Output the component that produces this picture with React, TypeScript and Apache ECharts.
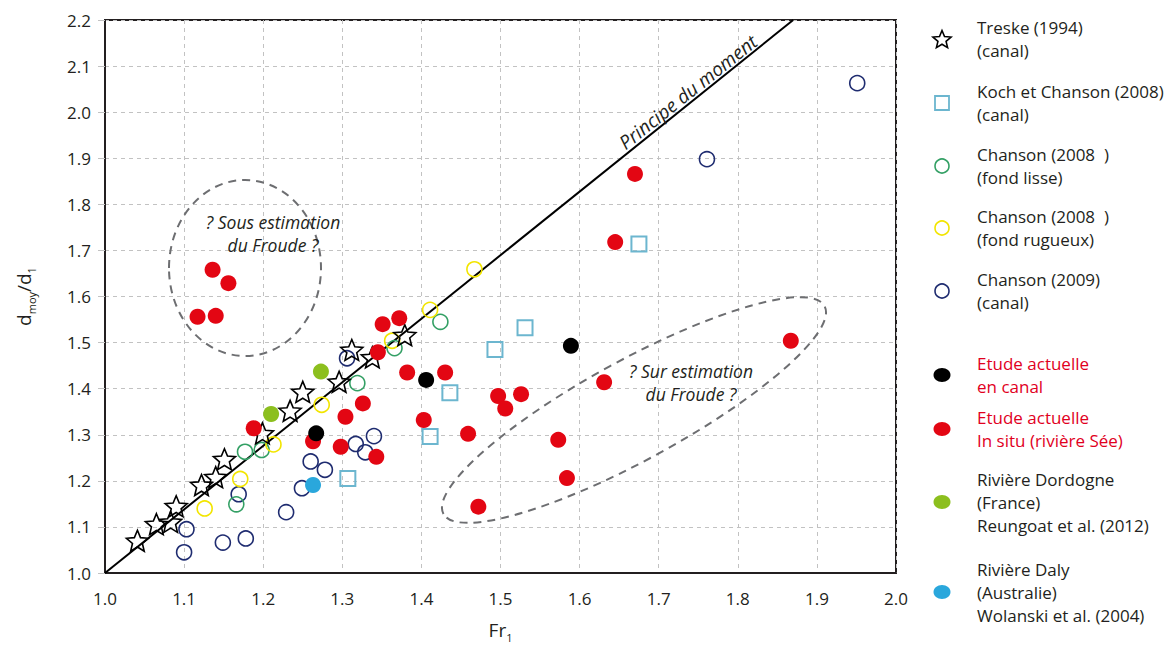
import React, { useEffect, useRef } from "react";
import * as echarts from "echarts";

// ---------- data ----------
const treskeX = [1.041, 1.065, 1.083, 1.09, 1.122, 1.14, 1.151, 1.199, 1.234, 1.25, 1.296, 1.312, 1.338, 1.379];
const treskeY = [1.07, 1.106, 1.111, 1.145, 1.191, 1.208, 1.247, 1.303, 1.352, 1.393, 1.415, 1.484, 1.468, 1.516];

const kochX = [1.307, 1.411, 1.436, 1.493, 1.531, 1.675];
const kochY = [1.205, 1.296, 1.391, 1.485, 1.532, 1.714];

const lisseX = [1.166, 1.177, 1.198, 1.319, 1.366, 1.424];
const lisseY = [1.149, 1.263, 1.267, 1.412, 1.488, 1.545];

const rugueuxX = [1.126, 1.171, 1.213, 1.274, 1.363, 1.411, 1.467];
const rugueuxY = [1.14, 1.204, 1.279, 1.365, 1.504, 1.571, 1.659];

const ch2009X = [1.1, 1.103, 1.149, 1.178, 1.169, 1.229, 1.249, 1.26, 1.278, 1.306, 1.317, 1.329, 1.34, 1.761, 1.951];
const ch2009Y = [1.045, 1.095, 1.066, 1.075, 1.171, 1.132, 1.184, 1.242, 1.224, 1.466, 1.28, 1.262, 1.297, 1.898, 2.063];

const canalX = [1.267, 1.406, 1.589];
const canalY = [1.303, 1.419, 1.493];

const situX = [1.117, 1.14, 1.136, 1.156, 1.188, 1.263, 1.298, 1.304, 1.326, 1.343, 1.345, 1.351, 1.372, 1.382, 1.403, 1.43, 1.459, 1.472, 1.497, 1.506, 1.526, 1.573, 1.584, 1.631, 1.645, 1.67, 1.867];
const situY = [1.556, 1.558, 1.658, 1.629, 1.314, 1.286, 1.274, 1.339, 1.368, 1.252, 1.479, 1.54, 1.553, 1.435, 1.332, 1.435, 1.302, 1.144, 1.384, 1.357, 1.388, 1.289, 1.206, 1.414, 1.718, 1.866, 1.504];

const dordogneX = [1.21, 1.273];
const dordogneY = [1.345, 1.437];

const dalyX = [1.263];
const dalyY = [1.191];

const momentX = [1.0, 1.87];
const momentY = [1.0, 2.2];

const legendLabels = [
  "Treske (1994)\n(canal)",
  "Koch et Chanson (2008)\n(canal)",
  "Chanson (2008  )\n(fond lisse)",
  "Chanson (2008  )\n(fond rugueux)",
  "Chanson (2009)\n(canal)",
  "Etude actuelle\nen canal",
  "Etude actuelle\nIn situ (rivière Sée)",
  "Rivière Dordogne\n(France)\nReungoat et al. (2012)",
  "Rivière Daly\n(Australie)\nWolanski et al. (2004)",
];

const xMin = 1.0, xMax = 2.0, yMin = 1.0, yMax = 2.2, step = 0.1;

// ---------- styles ----------
const INK = "#231f20";
const FONT = "'Open Sans', 'Noto Sans', sans-serif";
const C_KOCH = "#6cb6cf";
const C_LISSE = "#34a065";
const C_RUG = "#f2e500";
const C_2009 = "#1f2c70";
const C_RED = "#e30613";
const C_DORD = "#8cbf1e";
const C_DALY = "#2aa7dc";

const STAR_PTS: number[][] = [
  [0, -10], [2.645, -3.641], [9.511, -3.09], [4.28, 1.391], [5.878, 8.09],
  [0, 4.5], [-5.878, 8.09], [-4.28, 1.391], [-9.511, -3.09], [-2.645, -3.641],
];
const STAR_PATH =
  "path://" +
  STAR_PTS.map((p, i) => (i === 0 ? "M" : "L") + (p[0] + 10).toFixed(3) + "," + (p[1] + 10).toFixed(3)).join(" ") +
  " Z";

const zip = (xs: number[], ys: number[]) => xs.map((x, i) => [x, ys[i]]);

export default function App() {
  const ref = useRef<HTMLDivElement>(null);

  useEffect(() => {
    if (!ref.current) return;
    const chart = echarts.init(ref.current, undefined, { renderer: "svg" });

    const hollow = (name: string, xs: number[], ys: number[], color: string, symbol: string, size: number, bw = 1.6) => ({
      name,
      type: "scatter",
      data: zip(xs, ys),
      symbol,
      symbolSize: size,
      symbolKeepAspect: true,
      itemStyle: { color: "rgba(255,255,255,0)", borderColor: color, borderWidth: bw, opacity: 1 },
      z: 3,
    });
    const filled = (name: string, xs: number[], ys: number[], color: string) => ({
      name,
      type: "scatter",
      data: zip(xs, ys),
      symbol: "circle",
      symbolSize: 16,
      itemStyle: { color, opacity: 1 },
      z: 4,
    });

    const rich = {
      a: { fontSize: 19, fontFamily: FONT, color: INK, lineHeight: 26, verticalAlign: "middle" },
      s: { fontSize: 11, fontFamily: FONT, color: INK, lineHeight: 12, verticalAlign: "bottom" },
    };

    // legend graphics
    const legendCenters = [39, 103, 166, 228, 291, 375, 429, 502, 592];
    const legendSymbols = ["star", "square", C_LISSE, C_RUG, C_2009, "#000", C_RED, C_DORD, C_DALY];
    const legendGraphics: any[] = [];
    legendLabels.forEach((lab, i) => {
      const cy = legendCenters[i];
      const cx = 942;
      const sym = legendSymbols[i];
      if (sym === "star") {
        legendGraphics.push({
          type: "polygon",
          x: cx,
          y: cy + 1,
          shape: { points: STAR_PTS.map((p) => [p[0] * 0.95, p[1] * 0.95]) },
          style: { fill: "none", stroke: "#000", lineWidth: 1.6 },
        });
      } else if (sym === "square") {
        legendGraphics.push({
          type: "rect",
          shape: { x: cx - 7, y: cy - 7, width: 14, height: 14 },
          style: { fill: "none", stroke: C_KOCH, lineWidth: 1.8 },
        });
      } else if (i >= 2 && i <= 4) {
        legendGraphics.push({
          type: "circle",
          shape: { cx, cy, r: 7 },
          style: { fill: "none", stroke: sym, lineWidth: 1.6 },
        });
      } else {
        legendGraphics.push({
          type: "ellipse",
          shape: { cx, cy, rx: 8.5, ry: 7 },
          style: { fill: sym },
        });
      }
      legendGraphics.push({
        type: "text",
        x: 977,
        y: cy,
        style: {
          text: lab,
          font: `17px ${FONT}`,
          lineHeight: 23,
          fill: i === 5 || i === 6 ? "#e1001e" : INK,
          verticalAlign: "middle",
          align: "left",
        },
      });
    });

    const annot: any[] = [
      {
        type: "ellipse",
        x: 245,
        y: 268,
        shape: { cx: 0, cy: 0, rx: 76, ry: 88 },
        style: { fill: "none", stroke: "#6d6e71", lineWidth: 2, lineDash: [8, 6] },
        z: 10,
      },
      {
        type: "ellipse",
        x: 634,
        y: 410,
        rotation: 0.5,
        shape: { cx: 0, cy: 0, rx: 217, ry: 50 },
        style: { fill: "none", stroke: "#6d6e71", lineWidth: 2, lineDash: [8, 6] },
        z: 10,
      },
      {
        type: "text",
        x: 273,
        y: 233,
        style: {
          text: "? Sous estimation\ndu Froude ?",
          font: `italic 17.5px ${FONT}`,
          lineHeight: 23,
          fill: INK,
          align: "center",
          verticalAlign: "middle",
        },
        z: 10,
      },
      {
        type: "text",
        x: 691,
        y: 382,
        style: {
          text: "? Sur estimation\ndu Froude ?",
          font: `italic 17.5px ${FONT}`,
          lineHeight: 23,
          fill: INK,
          align: "center",
          verticalAlign: "middle",
        },
        z: 10,
      },
      {
        type: "text",
        x: 688,
        y: 92,
        rotation: 0.672,
        style: {
          text: "Principe du moment",
          font: `italic 19px ${FONT}`,
          fill: INK,
          align: "center",
          verticalAlign: "middle",
        },
        z: 10,
      },
    ];

    chart.setOption({
      animation: false,
      backgroundColor: "#ffffff",
      grid: {
        left: 105,
        right: 277,
        top: 20,
        bottom: 79,
        show: true,
        borderColor: INK,
        borderWidth: 2,
        backgroundColor: "transparent",
      },
      xAxis: {
        type: "value",
        min: xMin,
        max: xMax,
        interval: step,
        name: "{a|Fr}{s|1}",
        nameLocation: "middle",
        nameGap: 44,
        nameTextStyle: { rich },
        axisLine: { show: true, lineStyle: { color: INK, width: 2 } },
        axisTick: { show: false },
        axisLabel: {
          formatter: (v: number) => v.toFixed(1),
          fontSize: 17,
          fontFamily: FONT,
          color: INK,
          margin: 17,
        },
        splitLine: { show: true, lineStyle: { type: [4, 4], color: "#c2c2c2", width: 1 } },
      },
      yAxis: {
        type: "value",
        min: yMin,
        max: yMax,
        interval: step,
        name: "{a|d}{s|moy}{a|/d}{s|1}",
        nameLocation: "middle",
        nameRotate: 90,
        nameGap: 68,
        nameTextStyle: { rich },
        axisLine: { show: true, lineStyle: { color: INK, width: 2 } },
        axisTick: { show: true, length: 7, lineStyle: { color: "#c2c2c2", width: 1 } },
        axisLabel: {
          formatter: (v: number) => v.toFixed(1),
          fontSize: 17,
          fontFamily: FONT,
          color: INK,
          margin: 14,
        },
        splitLine: { show: true, lineStyle: { type: [4, 4], color: "#c2c2c2", width: 1 } },
      },
      series: [
        {
          name: "Principe du moment",
          type: "line",
          data: zip(momentX, momentY),
          symbol: "none",
          lineStyle: { color: "#000", width: 2 },
          z: 2,
        },
        hollow("Chanson (2009)", ch2009X, ch2009Y, C_2009, "circle", 15),
        hollow("Chanson (2008) fond lisse", lisseX, lisseY, C_LISSE, "circle", 15),
        hollow("Chanson (2008) fond rugueux", rugueuxX, rugueuxY, C_RUG, "circle", 15),
        hollow("Koch et Chanson (2008)", kochX, kochY, C_KOCH, "rect", 15, 2),
        filled("Etude actuelle in situ", situX, situY, C_RED),
        filled("Etude actuelle en canal", canalX, canalY, "#000"),
        filled("Rivière Dordogne", dordogneX, dordogneY, C_DORD),
        filled("Rivière Daly", dalyX, dalyY, C_DALY),
        hollow("Treske (1994)", treskeX, treskeY, "#000", STAR_PATH, 22, 1.6),
      ],
      graphic: [...annot, ...legendGraphics],
    });

    return () => chart.dispose();
  }, []);

  return (
    <div
      ref={ref}
      style={{ position: "fixed", left: 0, top: 0, width: 1173, height: 652, background: "#fff" }}
    />
  );
}
